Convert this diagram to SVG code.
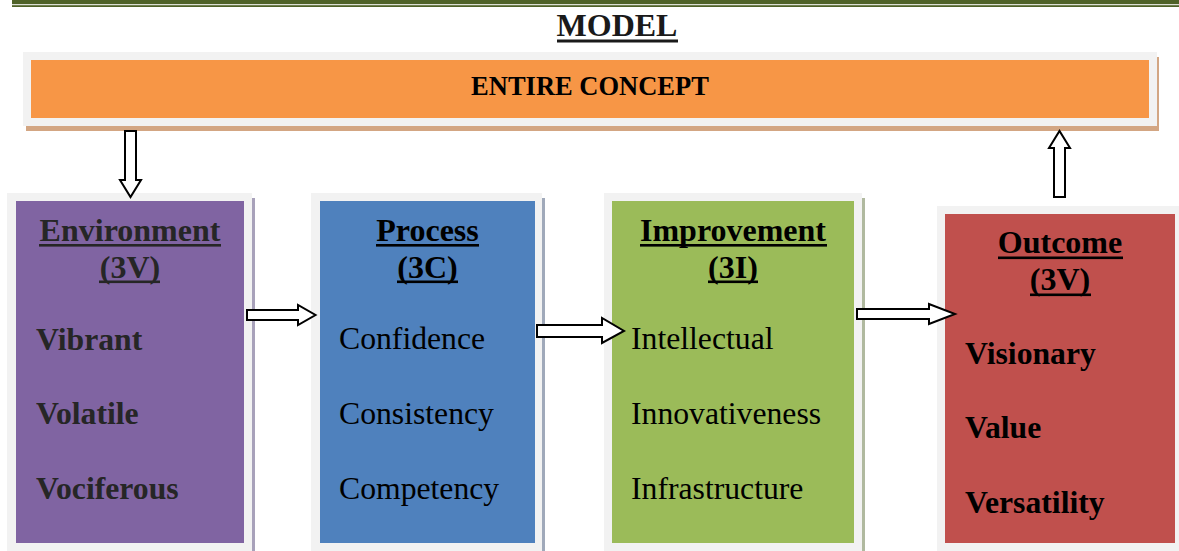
<svg xmlns="http://www.w3.org/2000/svg" width="1179" height="551" viewBox="0 0 1179 551">
  <defs>
    <style>
      .frame { fill: #f2f2f2; }
      .title { font-family: "Liberation Serif", "Times New Roman", serif; font-weight: bold; font-size: 32px; text-anchor: middle; }
      .item { font-family: "Liberation Serif", "Times New Roman", serif; font-size: 31.7px; }
      .bold { font-weight: bold; }
      .block { fill: #ffffff; stroke: #000000; stroke-width: 2; stroke-linejoin: miter; }
    </style>
  </defs>

  <rect x="0" y="0" width="1179" height="551" fill="#ffffff"/>

  <!-- page header rules -->
  <g id="header">
    <rect x="12" y="0" width="1167" height="4.2" fill="#4f6228"/>
    <rect x="12" y="5.2" width="1167" height="1.8" fill="#4f6228"/>
    <text x="617" y="36" class="title" fill="#1a1a1a">MODEL</text>
    <rect x="557" y="39.5" width="121" height="3" fill="#1a1a1a"/>
  </g>

  <!-- banner -->
  <g id="entire-concept">
    <rect x="26" y="57" width="1133" height="74" fill="#d3a683"/>
    <rect x="23" y="52" width="1134" height="74" class="frame"/>
    <rect x="31" y="60" width="1118" height="58" fill="#f79646"/>
    <text x="590" y="95" font-family="Liberation Serif, Times New Roman, serif" font-weight="bold" font-size="26.5" text-anchor="middle" fill="#000">ENTIRE CONCEPT</text>
  </g>

  <!-- Environment -->
  <g id="environment">
    <rect x="252" y="198" width="3" height="353" fill="#a8a1ba"/>
    <rect x="7" y="193" width="245" height="358" class="frame"/>
    <rect x="16" y="201" width="228" height="342" fill="#8064a2"/>
    <g fill="#262626">
      <text x="130" y="241" class="title">Environment</text>
      <rect x="39" y="244" width="182" height="2.6"/>
      <text x="130" y="277.5" class="title">(3V)</text>
      <rect x="99" y="280.5" width="61" height="2.6"/>
      <text x="36" y="350" class="item bold">Vibrant</text>
      <text x="36" y="424" class="item bold">Volatile</text>
      <text x="36" y="499" class="item bold">Vociferous</text>
    </g>
  </g>

  <!-- Process -->
  <g id="process">
    <rect x="542" y="198" width="3" height="353" fill="#a0a9ba"/>
    <rect x="311" y="193" width="231" height="358" class="frame"/>
    <rect x="320" y="201" width="215" height="342" fill="#4f81bd"/>
    <g fill="#000">
      <text x="427.5" y="241" class="title">Process</text>
      <rect x="376" y="244" width="103" height="2.6"/>
      <text x="427.5" y="277.5" class="title">(3C)</text>
      <rect x="397" y="280.5" width="61" height="2.6"/>
      <text x="339" y="349" class="item">Confidence</text>
      <text x="339" y="424" class="item">Consistency</text>
      <text x="339" y="499" class="item">Competency</text>
    </g>
  </g>

  <!-- Improvement -->
  <g id="improvement">
    <rect x="862" y="198" width="3" height="353" fill="#b0b99f"/>
    <rect x="604" y="193" width="258" height="358" class="frame"/>
    <rect x="612" y="201" width="242" height="342" fill="#9bbb59"/>
    <g fill="#000">
      <text x="733" y="241" class="title">Improvement</text>
      <rect x="640" y="244" width="187" height="2.6"/>
      <text x="733" y="277.5" class="title">(3I)</text>
      <rect x="708" y="280.5" width="50" height="2.6"/>
      <text x="631" y="349" class="item">Intellectual</text>
      <text x="631" y="424" class="item">Innovativeness</text>
      <text x="631" y="499" class="item">Infrastructure</text>
    </g>
  </g>

  <!-- Outcome -->
  <g id="outcome">
    <rect x="937" y="206" width="242" height="345" class="frame"/>
    <rect x="945" y="214" width="230" height="329" fill="#c0504d"/>
    <g fill="#000">
      <text x="1060" y="253" class="title">Outcome</text>
      <rect x="998" y="256.5" width="125" height="2.6"/>
      <text x="1060" y="290" class="title">(3V)</text>
      <rect x="1030" y="293.5" width="61" height="2.6"/>
      <text x="965" y="364" class="item bold">Visionary</text>
      <text x="965" y="438" class="item bold">Value</text>
      <text x="965" y="513" class="item bold">Versatility</text>
    </g>
  </g>

  <!-- block arrows between stages -->
  <g id="connectors">
    <path class="block" d="M125,131 H136 V180 H141 L130.5,197 L120,180 H125 Z"/>
    <path class="block" d="M1054,197 H1065 V148 H1070 L1059.5,131 L1049,148 H1054 Z"/>
    <path class="block" d="M247,310 H298 V305 L315.5,315 L298,325 V320 H247 Z"/>
    <path class="block" d="M537,325 H602 V318 L624,331 L602,343 V337 H537 Z"/>
    <path class="block" d="M857,309 H929 V304 L955,314 L929,324 V319 H857 Z"/>
  </g>
</svg>
